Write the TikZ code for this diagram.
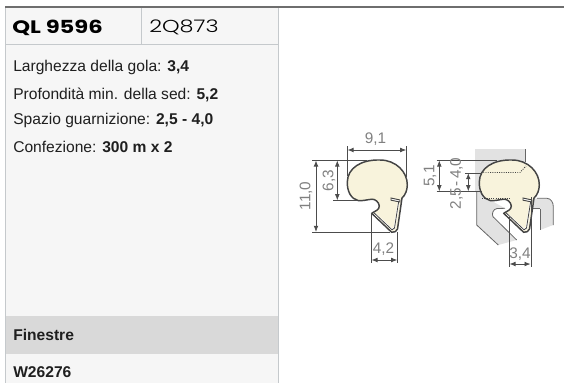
\documentclass[tikz,border=0pt]{standalone}
\usepackage{fontspec}
\setmainfont{Liberation Sans}
\newfontfamily\headfont{Poppins}
\newfontfamily\headlight{Poppins Light}
\usetikzlibrary{arrows.meta}
\definecolor{panelbg}{HTML}{F6F6F6}
\definecolor{panelline}{HTML}{C5C9CC}
\definecolor{band}{HTML}{D9D9D9}
\definecolor{topline}{HTML}{6E6E6E}
\definecolor{cream}{HTML}{F8F3DC}
\definecolor{profline}{HTML}{444444}
\definecolor{dimtext}{HTML}{808080}
\definecolor{wallgray}{HTML}{E2E2E2}
\tikzset{
  info/.style={anchor=west,inner sep=0pt,font=\fontsize{11.7}{13}\selectfont,text=black!88},
  dimline/.style={draw=black!70,line width=0.45pt},
  dimarrow/.style={draw=black!70,line width=0.5pt,{Latex[length=4.5pt,width=3.5pt]}-{Latex[length=4.5pt,width=3.5pt]}},
  dimlabel/.style={text=dimtext,inner sep=0pt,font=\fontsize{11.5}{13}\selectfont},
  pics/profile/.style={code={
    \draw[fill=cream,draw=profline,line width=1.1pt,line join=round]
      (380,160) .. controls (396,160) and (407.5,172) .. (407.3,185)
      .. controls (407.2,190) and (405.5,195) .. (402,198)
      -- (397.5,229) .. controls (397,231) and (394,233) .. (391.7,232.3)
      -- (371.7,213.3)
      .. controls (375,211) and (379.5,210) .. (379.3,206)
      .. controls (379,202) and (375,199) .. (372,199.2)
      .. controls (366,199.8) and (362,201.2) .. (358,200.5)
      .. controls (351,199) and (347,191) .. (347.3,182)
      .. controls (347.6,168) and (361,159.5) .. (380,160) -- cycle;
    \draw[draw=white,line width=1.3pt] (374.5,213.5) -- (392,229.5) -- (394.5,228) -- (399,199.5);
    \draw[draw=profline,line width=0.7pt,fill=white] (391,198) -- (400,200) -- (400,202) -- (391,200.2) -- cycle;
    \draw[draw=profline,line width=0.6pt] (374,212.8) -- (392,229.8) -- (394.5,228) -- (398.6,202);
  }}
}
\begin{document}
\begin{tikzpicture}[x=0.75pt,y=-0.75pt]
\useasboundingbox (0,0) rectangle (564,383);
% panel
\fill[panelbg] (5,7) rectangle (278,383);
\fill[band] (5,316) rectangle (278,354);
\draw[panelline,line width=0.75pt] (5,7) -- (5,383) (278,7) -- (278,383) (5,44.5) -- (278,44.5) (141.5,7) -- (141.5,44.5);
\draw[topline,line width=1.1pt] (5,7) -- (564,7);
% text
\node[anchor=west,inner sep=0pt] (code) at (12,28) {\headfont\bfseries\fontsize{13.5}{15}\selectfont\scalebox{1.26}[1]{QL 9596}};
\node[anchor=west,inner sep=0pt] (alt) at (149,27.5) {\headlight\fontsize{13}{15}\selectfont\scalebox{1.29}[1]{2Q873}};
\node[info] (t1) at (13,67.7) {Larghezza della gola: \textbf{3,4}};
\node[info] (t2) at (13,94.5) {Profondità min. della sed: \textbf{5,2}};
\node[info] (t3) at (13,120.7) {Spazio guarnizione: \textbf{2,5 - 4,0}};
\node[info] (t4) at (13,146.7) {Confezione: \textbf{300 m x 2}};
\node[info] (t5) at (13,335) {\textbf{Finestre}};
\node[info] (t6) at (13,372.5) {\textbf{W26276}};
% left profile
\pic at (0,0) {profile};
\draw[dimline] (347,146) -- (347,176);
\draw[dimline] (406.7,146) -- (406.7,176.5);
\draw[dimarrow] (347.5,150) -- (406.2,150);
\node[dimlabel] (d91) at (375.5,139.5) {9,1};
\draw[dimline] (312.3,160) -- (367,160);
\draw[dimline] (312.3,232.3) -- (390,232.3);
\draw[dimline] (333,200.7) -- (357,200.7);
\draw[dimarrow] (316,160.5) -- (316,231.8);
\draw[dimarrow] (337.3,160.5) -- (337.3,200.2);
\node[dimlabel,rotate=90] (d11) at (306,196) {11,0};
\node[dimlabel,rotate=90] (d63) at (329,180.5) {6,3};
\draw[dimline] (371,213) -- (371,263);
\draw[dimline] (397.7,232) -- (397.7,263);
\draw[dimarrow] (371.5,260) -- (397.2,260);
\node[dimlabel] (d42) at (383.5,249) {4,2};
% right profile: background
\fill[wallgray] (475,149) -- (525.7,149) -- (525.7,170) -- (490,200) -- (505,208.3) -- (497,208.5)
  .. controls (493,209) and (491.5,214) .. (493,216.7) -- (516.7,240) -- (498.3,245) -- (476.7,225) -- (476.7,192) -- (475,192) -- cycle;
\fill[wallgray] (530,198.3) -- (547,198.3) .. controls (551,198.5) and (553.3,202.5) .. (553.3,206.7) -- (553.3,225) -- (540,230) -- (540,209) -- (530,209) -- cycle;
\draw[black!60,line width=0.6pt] (525.7,149) -- (525.7,162);
\draw[black!60,line width=0.6pt] (476.7,192) -- (476.7,225) -- (498.3,245);
\draw[black!60,line width=0.6pt] (537,198.3) -- (547,198.3) .. controls (551,198.5) and (553.3,202.5) .. (553.3,206.7) -- (553.3,225);
\draw[black!60,line width=0.6pt] (540,209) -- (540,230);
\draw[black!60,line width=0.6pt] (532,208.8) -- (540,208.8);
\draw[black!60,line width=0.6pt] (505,208.3) -- (497,208.5) .. controls (493,209) and (491.5,214) .. (493,216.7) -- (516.7,240);
\pic at (132,0) {profile};
\draw[profline,densely dotted,line width=0.7pt] (481,172.5) -- (520,172.5) -- (526,166);
\draw[profline,densely dotted,line width=0.7pt] (482,198.5) -- (510,198.5);
\draw[dimline] (436.7,160) -- (497,160);
\draw[dimline] (436.7,191.7) -- (482,191.7);
\draw[dimline] (465,172.8) -- (482,172.8);
\draw[dimarrow] (439.3,160.5) -- (439.3,191.2);
\draw[dimarrow] (468.3,173.2) -- (468.3,191.2);
\node[dimlabel,rotate=90] (d51) at (430,176) {5,1};
\node[dimlabel,rotate=90] (d25) at (456.5,183.5) {2,5\hspace{1.5pt}-\hspace{1.5pt}4,0};
\draw[dimline] (509,216.7) -- (509,267);
\draw[dimline] (531,197) -- (531,267);
\draw[dimarrow] (509.5,264) -- (530.5,264);
\node[dimlabel] (d34) at (520,254.5) {3,4};
\end{tikzpicture}
\end{document}
